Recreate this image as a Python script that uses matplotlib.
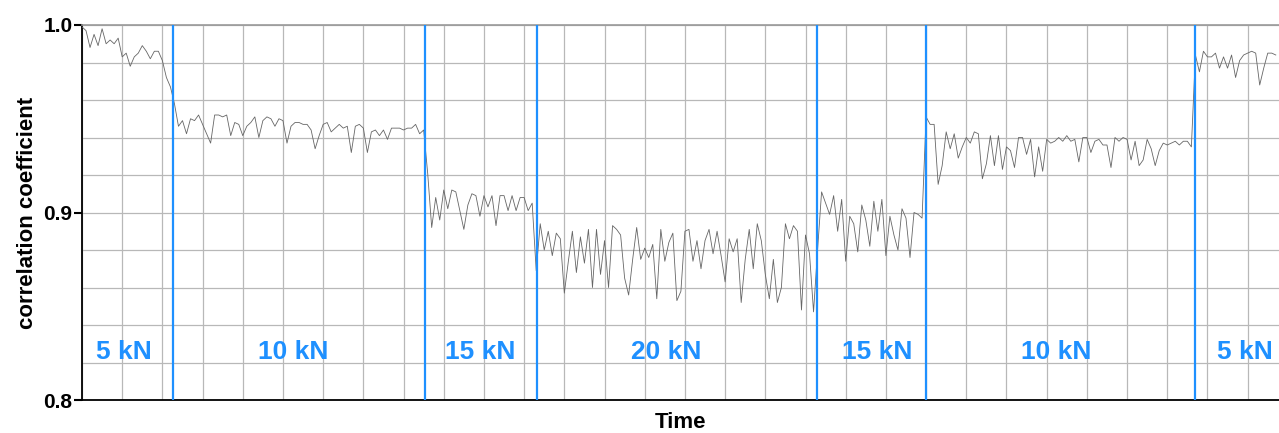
import numpy as np
import matplotlib
matplotlib.use("Agg")
import matplotlib.pyplot as plt
from matplotlib.ticker import MultipleLocator

plt.rcParams['font.family'] = ['Liberation Sans', 'DejaVu Sans']

# correlation coefficient, one list per load step (equally spaced samples)
load_5kn_a = [0.999, 0.997, 0.988, 0.995, 0.989, 0.998, 0.990, 0.992, 0.990, 0.993,
              0.983, 0.985, 0.978, 0.983, 0.985, 0.989, 0.986, 0.982, 0.986, 0.986,
              0.981, 0.972, 0.967]
load_10kn_a = [0.958, 0.946, 0.949, 0.942, 0.950, 0.949, 0.952, 0.947, 0.942, 0.937,
               0.952, 0.952, 0.951, 0.952, 0.941, 0.948, 0.947, 0.941, 0.946, 0.948,
               0.951, 0.940, 0.949, 0.951, 0.950, 0.946, 0.950, 0.949, 0.937, 0.946,
               0.948, 0.948, 0.947, 0.947, 0.944, 0.934, 0.941, 0.947, 0.948, 0.943,
               0.945, 0.947, 0.945, 0.946, 0.932, 0.946, 0.947, 0.945, 0.932, 0.943,
               0.944, 0.941, 0.944, 0.939, 0.945, 0.945, 0.945, 0.944, 0.945, 0.945,
               0.947, 0.942, 0.944]
load_15kn_a = [0.921, 0.892, 0.908, 0.896, 0.912, 0.902, 0.912, 0.911, 0.901, 0.891,
               0.904, 0.910, 0.909, 0.898, 0.909, 0.903, 0.909, 0.893, 0.909, 0.909,
               0.901, 0.909, 0.901, 0.908, 0.908, 0.901, 0.905, 0.869]
load_20kn = [0.894, 0.880, 0.890, 0.877, 0.889, 0.886, 0.857, 0.874, 0.890, 0.868,
             0.887, 0.873, 0.891, 0.860, 0.891, 0.867, 0.885, 0.860, 0.893, 0.891,
             0.888, 0.865, 0.856, 0.875, 0.892, 0.875, 0.881, 0.876, 0.883, 0.854,
             0.891, 0.874, 0.884, 0.889, 0.853,
             0.858, 0.890, 0.891, 0.874, 0.885, 0.870, 0.885, 0.891, 0.878, 0.890,
             0.877, 0.863, 0.886, 0.879, 0.886, 0.852, 0.875, 0.891, 0.870, 0.894,
             0.885, 0.867, 0.854, 0.875, 0.852, 0.860, 0.894, 0.886, 0.893, 0.890,
             0.848, 0.888, 0.878, 0.847]
load_15kn_b = [0.880, 0.911, 0.905, 0.899, 0.909, 0.890, 0.907, 0.874, 0.898, 0.894,
               0.879, 0.904, 0.896, 0.882, 0.906, 0.890, 0.907, 0.877, 0.898, 0.888,
               0.880, 0.902, 0.897, 0.876, 0.900, 0.899, 0.897]
load_10kn_b = [0.951, 0.947, 0.947, 0.915, 0.925, 0.943, 0.934, 0.942, 0.929, 0.935,
               0.940, 0.937, 0.943, 0.942, 0.918, 0.926, 0.941, 0.925, 0.941, 0.923,
               0.935, 0.933, 0.924, 0.940, 0.940, 0.931, 0.939, 0.919, 0.935, 0.922,
               0.939, 0.937, 0.938, 0.940,
               0.938, 0.941, 0.938, 0.939, 0.927, 0.940, 0.940, 0.932, 0.938, 0.939,
               0.936, 0.936, 0.924, 0.940, 0.938, 0.940, 0.939, 0.928, 0.938, 0.925,
               0.928, 0.939, 0.934, 0.925, 0.933, 0.937, 0.936, 0.937, 0.938, 0.936,
               0.938, 0.938, 0.935]
load_5kn_b = [0.984, 0.975, 0.986, 0.983, 0.983, 0.985, 0.977, 0.983, 0.977, 0.984,
              0.972, 0.981, 0.984, 0.985, 0.986, 0.985, 0.968, 0.977, 0.985, 0.985,
              0.984]

segments = [load_5kn_a, load_10kn_a, load_15kn_a, load_20kn,
            load_15kn_b, load_10kn_b, load_5kn_b]
load_labels = ["5 kN", "10 kN", "15 kN", "20 kN", "15 kN", "10 kN", "5 kN"]
# times (in samples) where the load was changed
step_times = [22.6, 85.3, 113.2, 182.8, 210.0, 276.9]
t_end = 297.8

corr = np.concatenate(segments)
t = np.arange(len(corr))

fig = plt.figure(figsize=(12.79, 4.33), dpi=100)
ax = fig.add_axes([82 / 1279, 33 / 433, 1197 / 1279, 375 / 433])

ax.plot(t, corr, color='#666666', lw=0.6, zorder=3)

blue = '#1e90ff'
for st in step_times:
    ax.axvline(st, color=blue, lw=1.6, zorder=4)

# label nudges so they sit where the original put them
label_shift = [-0.8, -1.5, -0.2, -2.7, 1.4, -1.2, 2.0]
edges = [0] + step_times + [t_end]
for i, lab in enumerate(load_labels):
    xm = (edges[i] + edges[i + 1]) / 2 + label_shift[i]
    ax.text(xm, 0.8258, lab, color=blue, fontsize=19, fontweight='bold',
            ha='center', va='center', zorder=5)

ax.set_xlim(0, t_end)
ax.set_ylim(0.8, 1.0)
ax.xaxis.set_major_locator(MultipleLocator(10))
ax.yaxis.set_minor_locator(MultipleLocator(0.02))
ax.set_yticks([0.8, 0.9, 1.0])
ax.set_yticklabels(["0.8", "0.9", "1.0"], fontsize=15, fontweight='bold')
ax.tick_params(axis='x', length=0, labelbottom=False)
ax.tick_params(axis='y', which='major', length=6, width=1.5, pad=1)
ax.tick_params(axis='y', which='minor', length=0)
ax.grid(True, which='both', color='#b8b8b8', lw=0.9)
ax.set_axisbelow(True)

for side in ['left', 'bottom']:
    ax.spines[side].set_color('black')
    ax.spines[side].set_linewidth(1.3)
ax.spines['top'].set_color('#999999')
ax.spines['top'].set_linewidth(1.2)
ax.spines['right'].set_visible(False)

ax.set_xlabel("Time", fontsize=16, fontweight='bold', labelpad=9)
ax.set_ylabel("correlation coefficient", fontsize=16, fontweight='bold', labelpad=4)

fig.savefig("out.png", dpi=100)
